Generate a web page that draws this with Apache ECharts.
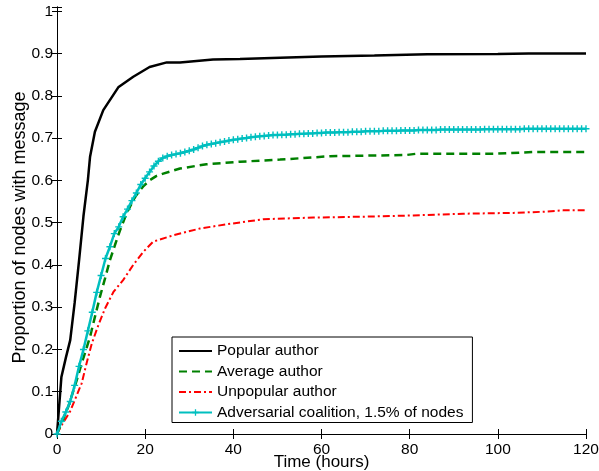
<!DOCTYPE html>
<html>
<head>
<meta charset="utf-8">
<script src="https://cdn.jsdelivr.net/npm/echarts@6/dist/echarts.min.js"></script>
<style>
html,body{margin:0;padding:0;background:#fff;}
#chart{width:599px;height:471px;}
</style>
</head>
<body>
<div id="chart"></div>
<script>
// ---- data ----
const seriesNames = ['Popular author', 'Average author', 'Unpopular author', 'Adversarial coalition, 1.5% of nodes'];

const popularHours  = [0, 1, 2, 3, 4, 5, 6, 7, 7.5, 8.6, 10.5, 13.9, 17.3, 21, 24.9, 27.9, 35.4, 41.5, 50.6, 60, 72, 84, 100, 107, 120];
const popularValues = [0, 0.135, 0.18, 0.222, 0.31, 0.41, 0.515, 0.6, 0.656, 0.715, 0.766, 0.82, 0.845, 0.868, 0.879, 0.879, 0.886, 0.887, 0.89, 0.893, 0.895, 0.898, 0.899, 0.9, 0.9];

const averageHours  = [0, 1, 2.57, 4.5, 5.6, 7.5, 8.6, 9.75, 10.9, 12, 13.15, 14.3, 15.8, 17.3, 18, 19.5, 21, 22.5, 24.1, 27.9, 33.9, 41.5, 50.6, 61.9, 79.3, 81.6, 99.7, 108, 120];
const averageValues = [0, 0.025, 0.065, 0.128, 0.167, 0.23, 0.277, 0.325, 0.368, 0.411, 0.447, 0.482, 0.522, 0.553, 0.565, 0.585, 0.6, 0.61, 0.616, 0.628, 0.638, 0.644, 0.649, 0.657, 0.66, 0.663, 0.663, 0.667, 0.667];

const unpopularHours  = [0, 1, 2.95, 4.5, 5.6, 6.7, 7.9, 9.4, 10.9, 12.8, 15, 17.3, 19.6, 21.8, 26.4, 32.4, 38.5, 46.8, 58.1, 69.5, 80.8, 92.1, 103.5, 111, 114.8, 120];
const unpopularValues = [0, 0.02, 0.053, 0.092, 0.12, 0.167, 0.214, 0.258, 0.297, 0.336, 0.364, 0.4, 0.431, 0.455, 0.47, 0.486, 0.496, 0.508, 0.512, 0.514, 0.517, 0.521, 0.523, 0.526, 0.529, 0.529];

// sampled every hour, 0..120
const adversarialValues = [
0, 0.03, 0.052, 0.077, 0.115, 0.16, 0.2, 0.244, 0.288, 0.335,
0.375, 0.415, 0.443, 0.474, 0.49, 0.514, 0.532, 0.552, 0.57, 0.59,
0.605, 0.62, 0.634, 0.645, 0.653, 0.657, 0.66, 0.662, 0.664, 0.667,
0.67, 0.673, 0.677, 0.681, 0.684, 0.686, 0.688, 0.69, 0.692, 0.694,
0.696, 0.697, 0.699, 0.7, 0.702, 0.703, 0.704, 0.705, 0.706, 0.707,
0.707, 0.708, 0.708, 0.709, 0.709, 0.71, 0.71, 0.711, 0.711, 0.712,
0.712, 0.713, 0.713, 0.713, 0.714, 0.714, 0.714, 0.715, 0.715, 0.715,
0.716, 0.716, 0.716, 0.716, 0.717, 0.717, 0.717, 0.717, 0.718, 0.718,
0.718, 0.718, 0.719, 0.719, 0.719, 0.719, 0.719, 0.72, 0.72, 0.72,
0.72, 0.72, 0.72, 0.72, 0.72, 0.72, 0.72, 0.721, 0.721, 0.721,
0.721, 0.721, 0.721, 0.721, 0.721, 0.721, 0.722, 0.722, 0.722, 0.722,
0.722, 0.722, 0.722, 0.722, 0.722, 0.722, 0.722, 0.722, 0.722, 0.722, 0.722
];

const xTicks = [0, 20, 40, 60, 80, 100, 120];
const yTicks = [0, 0.1, 0.2, 0.3, 0.4, 0.5, 0.6, 0.7, 0.8, 0.9, 1];
const xLabel = 'Time (hours)';
const yLabel = 'Proportion of nodes with message';

// ---- build ----
const pairs = (xs, ys) => xs.map((x, i) => [x, ys[i]]);
const adversarialData = adversarialValues.map((v, i) => [i, v]);

const FONT = 'Liberation Sans, Arial, Helvetica, sans-serif';
const plusPath = 'path://M4,0H6V4H10V6H6V10H4V6H0V4H4Z';

const yFmt = v => {
  for (const t of yTicks) { if (Math.abs(v - t) < 1e-6) return t === 0 ? '0' : (t === 1 ? '1' : t.toFixed(1)); }
  return '';
};
const xFmt = v => (xTicks.indexOf(Math.round(v)) >= 0 && Math.abs(v - Math.round(v)) < 1e-6) ? String(Math.round(v)) : '';

const baseX = {
  type: 'value', min: 0, max: 120, interval: 20,
  axisLine: { show: true, lineStyle: { color: '#000', width: 1 } },
  axisTick: { show: true, inside: true, length: 5, lineStyle: { color: '#000' } },
  splitLine: { show: false }
};
const baseY = {
  type: 'value', min: 0, max: 1.01, interval: 0.1,
  axisLine: { show: true, lineStyle: { color: '#000', width: 1 } },
  axisTick: { show: true, inside: true, length: 5, lineStyle: { color: '#000' } },
  splitLine: { show: false }
};

const chart = echarts.init(document.getElementById('chart'), null, { renderer: 'canvas' });
chart.setOption({
  animation: false,
  backgroundColor: '#fff',
  textStyle: { fontFamily: FONT },
  grid: { left: 57, right: 13, top: 7, bottom: 37, containLabel: false, outerBoundsMode: 'none' },
  xAxis: [
    Object.assign({}, baseX, {
      position: 'bottom',
      name: xLabel, nameLocation: 'middle', nameGap: 20, nameMoveOverlap: false,
      nameTextStyle: { fontSize: 17, color: '#000', fontFamily: FONT },
      axisLabel: { show: true, margin: 8, fontSize: 15.5, color: '#000', fontFamily: FONT, formatter: xFmt, showMaxLabel: true }
    }),
    Object.assign({}, baseX, { position: 'top', axisLabel: { show: false } })
  ],
  yAxis: [
    Object.assign({}, baseY, {
      position: 'left',
      name: yLabel, nameLocation: 'middle', nameGap: 28, nameMoveOverlap: false,
      nameTextStyle: { fontSize: 18, color: '#000', fontFamily: FONT, padding: [0, 14, 0, 0] },
      axisLabel: { show: true, margin: 4, fontSize: 15.5, color: '#000', fontFamily: FONT, formatter: yFmt }
    }),
    Object.assign({}, baseY, { position: 'right', axisLabel: { show: false } })
  ],
  legend: {
    orient: 'vertical',
    left: 172, top: 337,
    padding: [6, 9, 2, 6],
    itemWidth: 33, itemHeight: 8, itemGap: 4.5,
    borderColor: '#000', borderWidth: 1, backgroundColor: '#fff',
    textStyle: { fontSize: 15.5, color: '#000', fontFamily: FONT, lineHeight: 16 },
    data: [
      { name: seriesNames[0], itemStyle: { opacity: 0 } },
      { name: seriesNames[1], itemStyle: { opacity: 0 } },
      { name: seriesNames[2], itemStyle: { opacity: 0 } },
      { name: seriesNames[3] }
    ]
  },
  series: [
    {
      name: seriesNames[0], type: 'line', data: pairs(popularHours, popularValues),
      symbol: 'none', lineStyle: { color: '#000', width: 2.5 }, itemStyle: { color: '#000' }, z: 4
    },
    {
      name: seriesNames[1], type: 'line', data: pairs(averageHours, averageValues),
      symbol: 'none', lineStyle: { color: '#008000', width: 2.5, type: [8, 5] }, itemStyle: { color: '#008000' }, z: 3
    },
    {
      name: seriesNames[2], type: 'line', data: pairs(unpopularHours, unpopularValues),
      symbol: 'none', lineStyle: { color: '#ff0000', width: 2, type: [7, 3, 2, 3] }, itemStyle: { color: '#ff0000' }, z: 2
    },
    {
      name: seriesNames[3], type: 'line', data: adversarialData,
      symbol: plusPath, symbolSize: 7, showSymbol: true,
      lineStyle: { color: '#00bfbf', width: 2.5 }, itemStyle: { color: '#00bfbf' }, z: 5
    }
  ]
});
</script>
</body>
</html>
